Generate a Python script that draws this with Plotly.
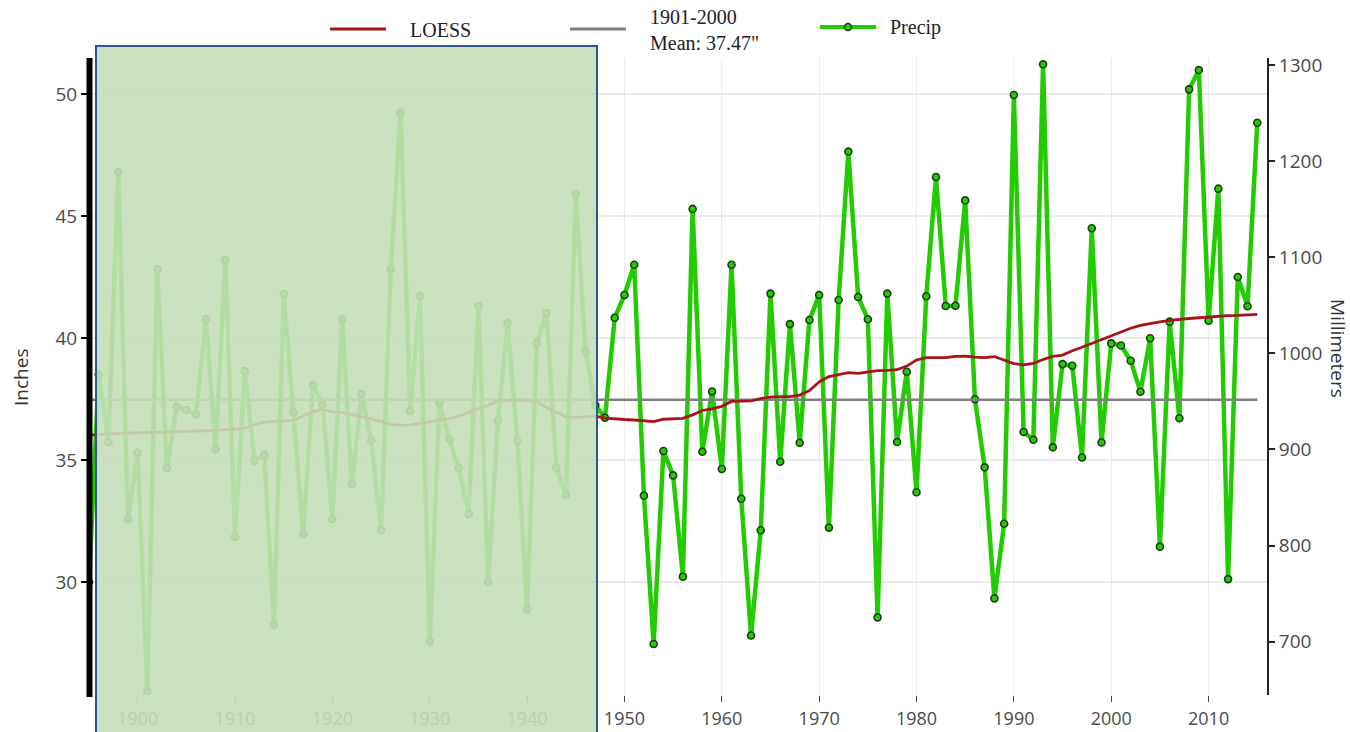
import plotly.graph_objects as go

# ---------------- data ----------------
years = list(range(1895, 2016))
precip_in = [
    30.0, 38.5, 35.73, 46.8, 32.57, 35.3, 25.53, 42.83, 34.66, 37.18,
    37.05, 36.87, 40.77, 35.45, 43.18, 31.86, 38.65, 34.97, 35.2, 28.24,
    41.8, 36.95, 31.97, 38.07, 37.25, 32.58, 40.77, 34.0, 37.7, 35.79,
    32.12, 42.83, 49.23, 37.0, 41.72, 27.57, 37.35, 35.85, 34.66, 32.79,
    41.31, 30.01, 36.61, 40.6, 35.78, 28.88, 39.8, 41.02, 34.69, 33.58,
    45.9, 39.45, 37.25, 36.73, 40.83, 41.76, 43.0, 33.54, 27.46, 35.37,
    34.37, 30.22, 45.29, 35.34, 37.81, 34.63, 43.0, 33.41, 27.81, 32.12,
    41.82, 34.93, 40.57, 35.71, 40.74, 41.76, 32.23, 41.56, 47.64, 41.68,
    40.77, 28.55, 41.82, 35.74, 38.62, 33.68, 41.71, 46.6, 41.31, 41.32,
    45.64, 37.49, 34.7, 29.33, 32.39, 49.96, 36.15, 35.83, 51.22, 35.52,
    38.93, 38.86, 35.1, 44.5, 35.72, 39.78, 39.69, 39.07, 37.8, 39.99,
    31.45, 40.67, 36.71, 50.19, 50.98, 40.71, 46.12, 30.12, 42.5, 41.3,
    48.82,
]
loess_in = [
    36.02, 36.05, 36.07, 36.09, 36.10, 36.11, 36.12, 36.14, 36.15, 36.16,
    36.18, 36.19, 36.20, 36.22, 36.25, 36.27, 36.30, 36.45, 36.55, 36.58,
    36.60, 36.62, 36.80, 36.98, 37.08, 36.98, 36.95, 36.88, 36.78, 36.68,
    36.58, 36.46, 36.42, 36.44, 36.50, 36.57, 36.62, 36.70, 36.80, 36.95,
    37.08, 37.25, 37.42, 37.45, 37.46, 37.44, 37.39, 37.15, 36.95, 36.77,
    36.75, 36.76, 36.80, 36.72, 36.68, 36.66, 36.64, 36.60, 36.57, 36.67,
    36.70, 36.71, 36.85, 37.03, 37.10, 37.20, 37.40, 37.40, 37.42, 37.52,
    37.58, 37.60, 37.60, 37.66, 37.85, 38.20, 38.42, 38.50, 38.58, 38.55,
    38.60, 38.66, 38.67, 38.70, 38.85, 39.10, 39.20, 39.20, 39.20, 39.25,
    39.26, 39.22, 39.20, 39.24, 39.10, 38.95, 38.90, 38.96, 39.12, 39.25,
    39.30, 39.48, 39.62, 39.78, 39.93, 40.10, 40.25, 40.40, 40.52, 40.60,
    40.66, 40.72, 40.77, 40.80, 40.83, 40.87, 40.90, 40.92, 40.93, 40.95,
    40.97,
]
mean_1901_2000 = 37.47
x_ticks = list(range(1900, 2011, 10))
y_ticks_in = [30, 35, 40, 45, 50]
y_ticks_mm = [700, 800, 900, 1000, 1100, 1200, 1300]
MM_PER_INCH = 25.4

legend_labels = ["LOESS", "1901-2000<br>Mean: 37.47\"", "Precip"]

# ---------------- layout geometry ----------------
W, H = 1350, 732
ML, MR, MT, MB = 89, 83, 58, 37
PW, PH = W - ML - MR, H - MT - MB


def px(x):
    return (x - ML) / PW


def py(y):
    return (H - MB - y) / PH


y_range_in = [25.37, 51.475]
y_range_mm = [v * MM_PER_INCH for v in y_range_in]

GREEN = "#22cc00"
RED = "#a8121a"
GRAY = "#808080"
TICKFONT = dict(family="Open Sans", size=19, color="#4a4a4a")
XTICKFONT = dict(family="Open Sans", size=18, color="#4a4a4a")

fig = go.Figure()

fig.add_trace(go.Scatter(
    x=years, y=precip_in, mode="lines+markers", name="Precip",
    line=dict(color=GREEN, width=4.5),
    marker=dict(size=7, color=GREEN, line=dict(color="#1b3d12", width=1.6)),
    showlegend=False,
))
fig.add_trace(go.Scatter(
    x=[years[0], years[-1]], y=[mean_1901_2000, mean_1901_2000], mode="lines",
    line=dict(color=GRAY, width=2.5), showlegend=False,
))
fig.add_trace(go.Scatter(
    x=years, y=loess_in, mode="lines", name="LOESS",
    line=dict(color=RED, width=2.8), showlegend=False,
))
# same precipitation in millimetres, invisible, to carry the right axis
fig.add_trace(go.Scatter(
    x=years, y=[v * MM_PER_INCH for v in precip_in], mode="lines", yaxis="y2",
    line=dict(width=0, color="rgba(0,0,0,0)"), hoverinfo="skip", showlegend=False,
))

shapes = []
annotations = []

# thick black left axis line
shapes.append(dict(type="line", xref="paper", yref="paper",
                   x0=px(89.5), x1=px(89.5), y0=py(697), y1=py(58),
                   line=dict(color="black", width=6), layer="above"))

# overlay rectangle (semi transparent green with blue border)
shapes.append(dict(
    type="rect", xref="paper", yref="paper",
    x0=px(96), x1=px(597), y0=py(736), y1=py(46),
    fillcolor="rgba(196,223,184,0.9)",
    line=dict(color="#2f5597", width=2), layer="above",
))

# manual legend
leg_y = 29
shapes.append(dict(type="line", xref="paper", yref="paper",
                   x0=px(330), x1=px(386), y0=py(leg_y), y1=py(leg_y),
                   line=dict(color=RED, width=3)))
shapes.append(dict(type="line", xref="paper", yref="paper",
                   x0=px(570), x1=px(626), y0=py(leg_y), y1=py(leg_y),
                   line=dict(color=GRAY, width=3)))
shapes.append(dict(type="line", xref="paper", yref="paper",
                   x0=px(820), x1=px(876), y0=py(27), y1=py(27),
                   line=dict(color=GREEN, width=4)))
shapes.append(dict(type="circle", xref="paper", yref="paper",
                   x0=px(844.5), x1=px(851.5), y0=py(30.5), y1=py(23.5),
                   fillcolor=GREEN, line=dict(color="#1b3d12", width=1.6)))

LEGFONT = dict(family="Liberation Serif", size=20, color="#222222")
annotations.append(dict(text=legend_labels[0], xref="paper", yref="paper",
                        x=px(408), y=py(30), xanchor="left", yanchor="middle",
                        showarrow=False, font=LEGFONT))
annotations.append(dict(text=legend_labels[1], xref="paper", yref="paper",
                        x=px(648), y=py(30), xanchor="left", yanchor="middle",
                        showarrow=False, font=LEGFONT, align="left"))
annotations.append(dict(text=legend_labels[2], xref="paper", yref="paper",
                        x=px(888), y=py(28), xanchor="left", yanchor="middle",
                        showarrow=False, font=LEGFONT))

# axis titles
annotations.append(dict(text="Inches", xref="paper", yref="paper",
                        x=px(21), y=py(378), xanchor="center", yanchor="middle",
                        textangle=-90, showarrow=False,
                        font=dict(family="Open Sans", size=19, color="#333333")))
annotations.append(dict(text="Millimeters", xref="paper", yref="paper",
                        x=px(1338), y=py(348), xanchor="center", yanchor="middle",
                        textangle=90, showarrow=False,
                        font=dict(family="Open Sans", size=19, color="#333333")))

fig.update_layout(
    width=W, height=H,
    margin=dict(l=ML, r=MR, t=MT, b=MB, autoexpand=False),
    paper_bgcolor="white", plot_bgcolor="white",
    showlegend=False,
    xaxis=dict(
        range=[1895, 2016], tickmode="array", tickvals=x_ticks,
        showgrid=True, gridcolor="#ebebeb", gridwidth=1,
        zeroline=False, showline=False, automargin=False,
        ticks="outside", ticklen=6, tickcolor="#444444", tickwidth=1,
        ticklabelstandoff=1,
        tickfont=XTICKFONT,
    ),
    yaxis=dict(
        range=y_range_in, tickmode="array", tickvals=y_ticks_in,
        showgrid=True, gridcolor="#ebebeb", gridwidth=1.5,
        zeroline=False, showline=False, automargin=False,
        ticks="outside", ticklen=7, tickcolor="black", tickwidth=1.5,
        tickfont=TICKFONT,
    ),
    yaxis2=dict(
        range=y_range_mm, tickmode="array", tickvals=y_ticks_mm,
        overlaying="y", side="right", showgrid=False, zeroline=False,
        showline=True, linecolor="#222222", linewidth=2, automargin=False,
        ticks="outside", ticklen=6, tickcolor="#222222", tickwidth=2,
        tickfont=TICKFONT,
    ),
    shapes=shapes,
    annotations=annotations,
)

fig.write_html("out.html")
